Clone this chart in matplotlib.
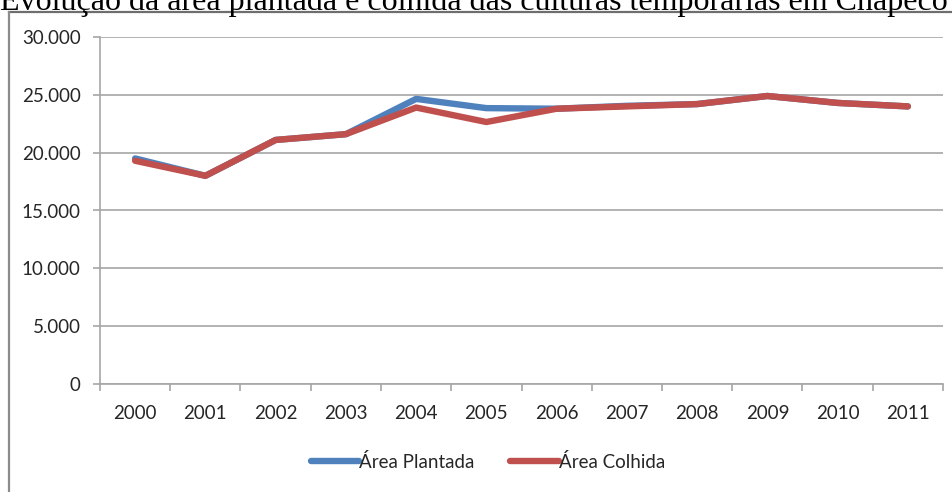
import matplotlib.pyplot as plt
from matplotlib.lines import Line2D
import numpy as np

# area (ha) per year
anos = ['2000', '2001', '2002', '2003', '2004', '2005',
        '2006', '2007', '2008', '2009', '2010', '2011']
area_plantada = [19500, 18000, 21100, 21600, 24650, 23850,
                 23800, 24050, 24200, 24900, 24300, 24000]
area_colhida = [19300, 18000, 21100, 21600, 23900, 22650,
                23800, 24000, 24200, 24900, 24300, 24000]
y_ticks = [0, 5000, 10000, 15000, 20000, 25000, 30000]
y_labels = ['0', '5.000', '10.000', '15.000', '20.000', '25.000', '30.000']

azul = '#4F81BD'
vermelho = '#C0504D'
cinza = '#A6A6A6'

fig = plt.figure(figsize=(9.52, 4.92), dpi=100)
W, H = 952, 492

# title, partly cut off at the top edge
fig.text(0.0, 1 - 10 / H, 'Evolução da área plantada e colhida das culturas temporárias em Chapecó',
         family='Liberation Serif', fontsize=23, ha='left', va='baseline', color='black')

# chart frame
fig.add_artist(Line2D([9 / W, 1], [1 - 12 / H, 1 - 12 / H], color='#6E6E6E', lw=1.6,
                      transform=fig.transFigure))
fig.add_artist(Line2D([9 / W, 9 / W], [0, 1 - 12 / H], color='#8C8C8C', lw=1.6,
                      transform=fig.transFigure))

ax = fig.add_axes([100 / W, 1 - 384 / H, (943 - 100) / W, (384 - 37) / H])
x = np.arange(len(anos))
ax.plot(x, area_plantada, color=azul, lw=4.6, solid_capstyle='round', solid_joinstyle='round',
        label='Área Plantada', zorder=3)
ax.plot(x, area_colhida, color=vermelho, lw=4.6, solid_capstyle='round', solid_joinstyle='round',
        label='Área Colhida', zorder=4)

ax.set_xlim(-0.5, len(anos) - 0.5)
ax.set_ylim(0, 30000)
ax.set_yticks(y_ticks)
ax.set_yticklabels(y_labels)
ax.set_xticks(x)
ax.set_xticklabels(anos)
ax.set_xticks(np.arange(-0.5, len(anos)), minor=True)
ax.tick_params(axis='x', which='major', length=0, pad=15)
ax.tick_params(axis='x', which='minor', length=5, color=cinza, width=1.2)
ax.tick_params(axis='y', length=5, color=cinza, width=1.2, pad=9)
for lbl in ax.get_xticklabels() + ax.get_yticklabels():
    lbl.set_family('Lato')
    lbl.set_fontsize(13.5)
    lbl.set_color('#262626')

ax.grid(axis='y', color=cinza, lw=1.2)
ax.set_axisbelow(True)
for s in ['top', 'right']:
    ax.spines[s].set_visible(False)
ax.spines['left'].set_color(cinza)
ax.spines['bottom'].set_color(cinza)
ax.spines['left'].set_linewidth(1.2)
ax.spines['bottom'].set_linewidth(1.2)

leg = fig.legend(loc='center', bbox_to_anchor=(488 / W, 1 - 462 / H), ncol=2, frameon=False,
                 handlelength=2.6, handletextpad=0.0, columnspacing=1.9,
                 prop={'family': 'Lato', 'size': 13.5})
for t in leg.get_texts():
    t.set_color('#262626')

fig.savefig('out.png', dpi=100)
